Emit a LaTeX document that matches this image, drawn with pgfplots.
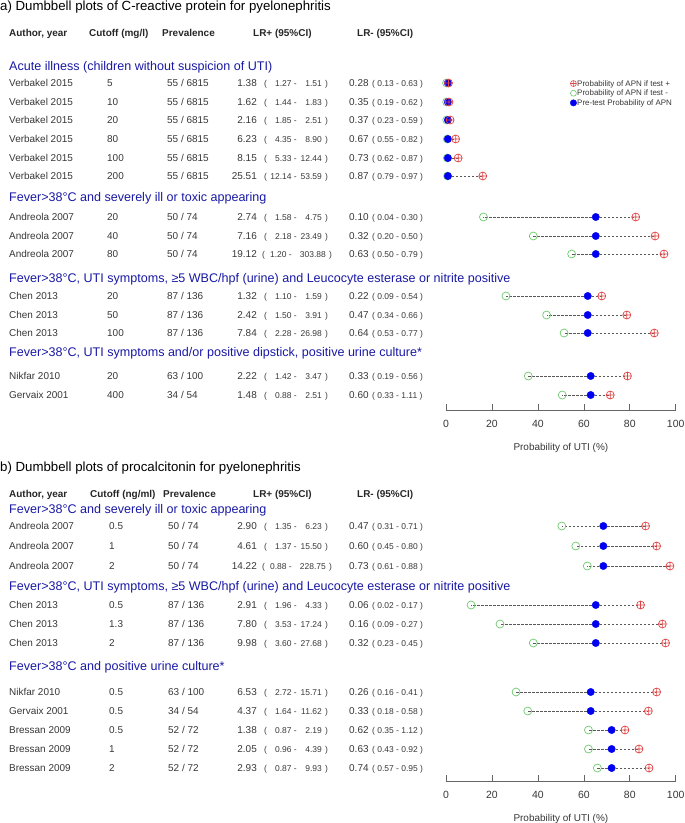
\documentclass[border=0pt]{standalone}
\usepackage{fontspec}
\setmainfont{Liberation Sans}
\usepackage{pgfplots}
\pgfplotsset{compat=1.18}
\usepackage{pgfplotstable}

\definecolor{redc}{RGB}{225,70,70}
\definecolor{greenc}{RGB}{110,200,110}
\definecolor{bluec}{RGB}{0,0,240}
\definecolor{grpc}{RGB}{25,25,165}
\definecolor{txtc}{RGB}{55,55,55}

% y = -(row position), g = post-test prob. if test -, b = pre-test prob., r = post-test prob. if test +
\pgfplotstableread{
y g b r
-83 0.23 0.8 1.1
-102 0.28 0.8 1.3
-120 0.30 0.8 1.8
-139 0.54 0.8 4.2
-158 0.59 0.8 5.3
-176 0.70 0.8 16.0
-217 16.3 65.2 82.6
-236 38.0 65.2 91.0
-254 54.7 65.2 94.9
-296 26.1 61.7 67.8
-315 43.8 61.7 78.7
-333 51.4 61.7 90.7
-376 35.8 63.0 79.0
-395 50.6 63.0 71.5
}\tabA

\pgfplotstableread{
y g b r
-526 50.4 68.5 86.9
-546 56.5 68.5 91.7
-566 61.5 68.5 97.5
-605 10.9 65.2 84.7
-624 23.5 65.2 94.2
-643 38.0 65.2 95.6
-692 30.5 63.0 91.7
-711 35.6 63.0 88.1
-730 62.0 72.1 77.9
-749 62.0 72.1 84.0
-768 65.9 72.1 88.4
}\tabB

\tikzset{
  txt/.style={font=\fontsize{10}{12}\selectfont, text=txtc, inner sep=0pt, text height=0.72em, text depth=0pt},
  ci/.style={font=\fontsize{8.5}{10}\selectfont, text=txtc, inner sep=0pt, text height=0.72em, text depth=0pt},
  hdr/.style={font=\fontsize{10}{12}\selectfont\bfseries, text=black!85, inner sep=0pt, text height=0.72em, text depth=0pt, anchor=west},
  grp/.style={font=\fontsize{12.6}{14}\selectfont, text=grpc, inner sep=0pt, text height=0.72em, text depth=0pt, anchor=west},
  ttl/.style={font=\fontsize{13.3}{15}\selectfont, text=black, inner sep=0pt, text height=0.72em, text depth=0pt, anchor=west},
}

\pgfplotsset{
  dumb/.style={
    x=2.297bp, y=1bp, xmin=0, xmax=100, enlargelimits=false, clip=false,
    axis x line*=bottom, axis y line=none, ytick=\empty,
    xtick={0,20,40,60,80,100}, tick align=inside, major tick length=6bp,
    axis line style={black!60, line width=0.6pt},
    every tick/.style={black!60, line width=0.6pt},
    xticklabel style={font=\fontsize{10.5}{12}\selectfont, text=txtc, anchor=center, yshift=-14bp},
    xlabel={Probability of UTI (\%)},
    xlabel style={font=\fontsize{10}{12}\selectfont, text=txtc, at={(axis description cs:0.5,0)}, anchor=center, yshift=-38bp},
    anchor=south west,
    /pgf/number format/assume math mode=true,
  },
  dashline/.style={only marks, mark=none, forget plot,
    error bars/.cd, x dir=both, x explicit, error mark=none,
    error bar style={black!65, dash pattern=on 2.4bp off 1.6bp, line width=0.6pt}},
  gmark/.style={only marks, mark=o, mark size=4, greenc, mark options={line width=0.7pt}},
  bmark/.style={only marks, mark=*, mark size=3.7, bluec, mark options={draw=bluec, fill=bluec}},
  rmark/.style={only marks, mark=oplus, mark size=4, redc, mark options={line width=0.7pt, fill=none}},
}

\newcommand{\cutx}{107}
\newcommand{\prevx}{167}
\newcommand{\opX}{264}
\newcommand{\loX}{297}
\newcommand{\upX}{322}
\newcommand{\clX}{325}
\newcommand{\wide}{\renewcommand{\opX}{262}\renewcommand{\loX}{292}\renewcommand{\upX}{326}\renewcommand{\clX}{329}}
\newcommand{\narrow}{\renewcommand{\opX}{264}\renewcommand{\loX}{297}\renewcommand{\upX}{322}\renewcommand{\clX}{325}}
\newcommand{\entry}[9]{%
  \node[txt, anchor=west] at (9bp,-#1bp) {#2};
  \node[txt, anchor=west] at (\cutx bp,-#1bp) {#3};
  \node[txt, anchor=west] at (\prevx bp,-#1bp) {#4};
  \node[txt, anchor=east] at (257bp,-#1bp) {#5};
  \node[ci, anchor=west] at (\opX bp,-#1bp) {(};
  \node[ci, anchor=east] at (\loX bp,-#1bp) {#6 -};
  \node[ci, anchor=east] at (\upX bp,-#1bp) {#7};
  \node[ci, anchor=west] at (\clX bp,-#1bp) {)};
  \node[txt, anchor=west] at (349bp,-#1bp) {#8};
  \node[ci, anchor=west] at (372bp,-#1bp) {( #9 )};
}

\begin{document}
\begin{tikzpicture}
\path[use as bounding box] (0bp,0bp) rectangle (685bp,-823bp);

% ---------------- panel a ----------------
\begin{axis}[dumb, at={(446bp,-410bp)}, ymin=-410, ymax=-70,
  legend style={at={(axis cs:54,-78.5)}, anchor=north west, draw=none, fill=none,
    font=\fontsize{8}{9}\selectfont, text=txtc, inner sep=0pt, row sep=0bp,
    nodes={inner sep=0.6bp, text height=0.7em, text depth=0.15em},
    /tikz/every even column/.append style={column sep=0.5bp}},
  legend cell align=left,
  legend image code/.code={\draw[#1] plot coordinates {(0bp,0bp)};}]
\addplot[dashline] table[x=b, y=y, x error plus expr=\thisrow{r}-\thisrow{b}, x error minus expr=\thisrow{b}-\thisrow{g}] {\tabA};
\addplot[gmark, forget plot] table[x=g, y=y] {\tabA};
\addplot[bmark, forget plot] table[x=b, y=y] {\tabA};
\addplot[rmark, forget plot] table[x=r, y=y] {\tabA};
\addlegendimage{only marks, mark=oplus, mark size=3, redc, mark options={line width=0.6pt}}
\addlegendentry{Probability of APN if test +}
\addlegendimage{only marks, mark=o, mark size=3, greenc, mark options={line width=0.6pt}}
\addlegendentry{Probability of APN if test -}
\addlegendimage{only marks, mark=*, mark size=3.2, bluec}
\addlegendentry{Pre-test Probability of APN}
\end{axis}

\node[ttl] at (0bp,-7bp) {a) Dumbbell plots of C-reactive protein for pyelonephritis};
\node[hdr] at (9bp,-33bp) {Author, year};
\node[hdr] at (89bp,-33bp) {Cutoff (mg/l)};
\node[hdr] at (162bp,-33bp) {Prevalence};
\node[hdr] at (253bp,-33bp) {LR+ (95\%CI)};
\node[hdr] at (357bp,-33bp) {LR- (95\%CI)};

\node[grp] at (9bp,-67bp) {Acute illness (children without suspicion of UTI)};
\entry{83}{Verbakel 2015}{5}{55 / 6815}{1.38}{1.27}{1.51}{0.28}{0.13 - 0.63}
\entry{102}{Verbakel 2015}{10}{55 / 6815}{1.62}{1.44}{1.83}{0.35}{0.19 - 0.62}
\entry{120}{Verbakel 2015}{20}{55 / 6815}{2.16}{1.85}{2.51}{0.37}{0.23 - 0.59}
\entry{139}{Verbakel 2015}{80}{55 / 6815}{6.23}{4.35}{8.90}{0.67}{0.55 - 0.82}
\entry{158}{Verbakel 2015}{100}{55 / 6815}{8.15}{5.33}{12.44}{0.73}{0.62 - 0.87}
\entry{176}{Verbakel 2015}{200}{55 / 6815}{25.51}{12.14}{53.59}{0.87}{0.79 - 0.97}
\node[grp] at (9bp,-198bp) {Fever>38°C and severely ill or toxic appearing};
\entry{217}{Andreola 2007}{20}{50 / 74}{2.74}{1.58}{4.75}{0.10}{0.04 - 0.30}
\entry{236}{Andreola 2007}{40}{50 / 74}{7.16}{2.18}{23.49}{0.32}{0.20 - 0.50}
\wide
\entry{254}{Andreola 2007}{80}{50 / 74}{19.12}{1.20}{303.88}{0.63}{0.50 - 0.79}
\narrow
\node[grp] at (9bp,-279bp) {Fever>38°C, UTI symptoms, ≥5 WBC/hpf (urine) and Leucocyte esterase or nitrite positive};
\entry{296}{Chen 2013}{20}{87 / 136}{1.32}{1.10}{1.59}{0.22}{0.09 - 0.54}
\entry{315}{Chen 2013}{50}{87 / 136}{2.42}{1.50}{3.91}{0.47}{0.34 - 0.66}
\entry{333}{Chen 2013}{100}{87 / 136}{7.84}{2.28}{26.98}{0.64}{0.53 - 0.77}
\node[grp] at (9bp,-353bp) {Fever>38°C, UTI symptoms and/or positive dipstick, positive urine culture*};
\entry{376}{Nikfar 2010}{20}{63 / 100}{2.22}{1.42}{3.47}{0.33}{0.19 - 0.56}
\entry{395}{Gervaix 2001}{400}{34 / 54}{1.48}{0.88}{2.51}{0.60}{0.33 - 1.11}

% ---------------- panel b ----------------
\begin{axis}[dumb, at={(446bp,-781bp)}, ymin=-781, ymax=-515]
\addplot[dashline] table[x=b, y=y, x error plus expr=\thisrow{r}-\thisrow{b}, x error minus expr=\thisrow{b}-\thisrow{g}] {\tabB};
\addplot[gmark, forget plot] table[x=g, y=y] {\tabB};
\addplot[bmark, forget plot] table[x=b, y=y] {\tabB};
\addplot[rmark, forget plot] table[x=r, y=y] {\tabB};
\end{axis}

\renewcommand{\cutx}{109}
\renewcommand{\prevx}{168}
\node[ttl] at (0bp,-468bp) {b) Dumbbell plots of procalcitonin for pyelonephritis};
\node[hdr] at (9bp,-494bp) {Author, year};
\node[hdr] at (90bp,-494bp) {Cutoff (ng/ml)};
\node[hdr] at (163bp,-494bp) {Prevalence};
\node[hdr] at (253bp,-494bp) {LR+ (95\%CI)};
\node[hdr] at (357bp,-494bp) {LR- (95\%CI)};

\node[grp] at (9bp,-510bp) {Fever>38°C and severely ill or toxic appearing};
\entry{526}{Andreola 2007}{0.5}{50 / 74}{2.90}{1.35}{6.23}{0.47}{0.31 - 0.71}
\entry{546}{Andreola 2007}{1}{50 / 74}{4.61}{1.37}{15.50}{0.60}{0.45 - 0.80}
\wide
\entry{566}{Andreola 2007}{2}{50 / 74}{14.22}{0.88}{228.75}{0.73}{0.61 - 0.88}
\narrow
\node[grp] at (9bp,-587bp) {Fever>38°C, UTI symptoms, ≥5 WBC/hpf (urine) and Leucocyte esterase or nitrite positive};
\entry{605}{Chen 2013}{0.5}{87 / 136}{2.91}{1.96}{4.33}{0.06}{0.02 - 0.17}
\entry{624}{Chen 2013}{1.3}{87 / 136}{7.80}{3.53}{17.24}{0.16}{0.09 - 0.27}
\entry{643}{Chen 2013}{2}{87 / 136}{9.98}{3.60}{27.68}{0.32}{0.23 - 0.45}
\node[grp] at (9bp,-667bp) {Fever>38°C and positive urine culture*};
\entry{692}{Nikfar 2010}{0.5}{63 / 100}{6.53}{2.72}{15.71}{0.26}{0.16 - 0.41}
\entry{711}{Gervaix 2001}{0.5}{34 / 54}{4.37}{1.64}{11.62}{0.33}{0.18 - 0.58}
\entry{730}{Bressan 2009}{0.5}{52 / 72}{1.38}{0.87}{2.19}{0.62}{0.35 - 1.12}
\entry{749}{Bressan 2009}{1}{52 / 72}{2.05}{0.96}{4.39}{0.63}{0.43 - 0.92}
\entry{768}{Bressan 2009}{2}{52 / 72}{2.93}{0.87}{9.93}{0.74}{0.57 - 0.95}
\end{tikzpicture}
\end{document}
